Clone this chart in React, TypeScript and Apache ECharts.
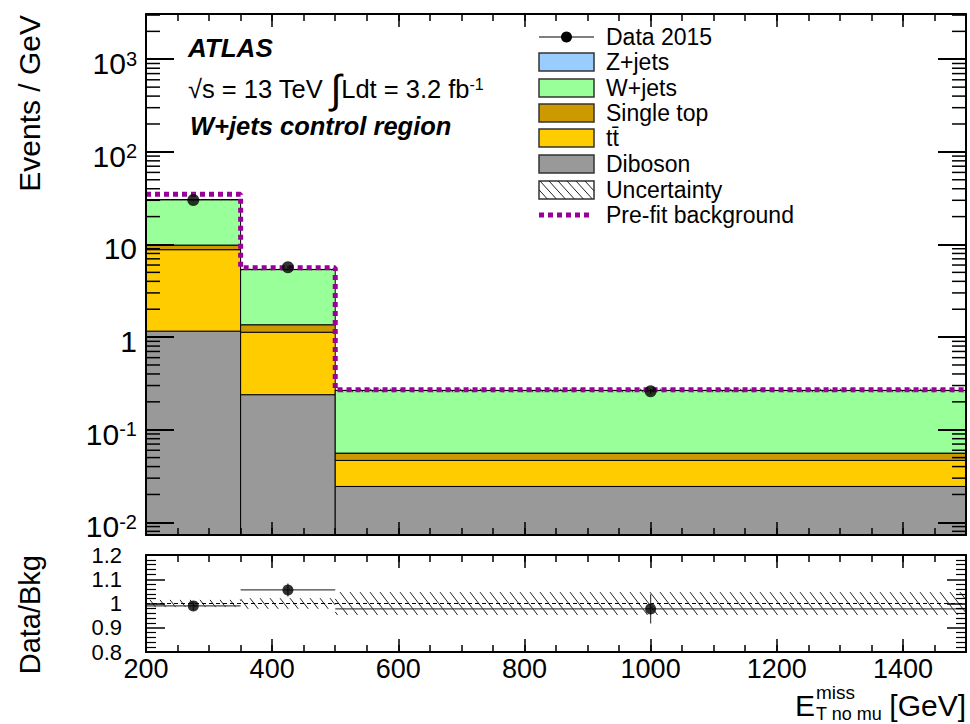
import React, { useEffect, useRef } from 'react';
import * as echarts from 'echarts';

// ---------------- data ----------------
const binEdges = [200, 350, 500, 1500];
const binCenters = [275, 425, 1000];
const dibosonValues = [1.16, 0.239, 0.0244];
const ttbarValues = [7.63, 0.89, 0.0222];
const singleTopValues = [1.06, 0.23, 0.0093];
const wjetsValues = [20.6, 4.0, 0.209];
const zjetsValues = [0.05, 0.02, 0.001];
const dataValues = [30.2, 5.68, 0.26];
const dataRelErrors = [0.018, 0.027, 0.06];
const uncertaintyRel = [0.015, 0.022, 0.047];
const prefitValues = [34.8, 5.62, 0.27];
const mainYTickExponents = [-2, -1, 0, 1, 2, 3];
const ratioTickLabels = ['0.8', '0.9', '1', '1.1', '1.2'];

const stackNames = ['Diboson', 't\u0074\u0304', 'Single top', 'W+jets', 'Z+jets'];
const stackColors = ['#999999', '#ffcc00', '#cc9900', '#99ff99', '#99ccff'];
const stackValues = [dibosonValues, ttbarValues, singleTopValues, wjetsValues, zjetsValues];

const X_MIN = 200;
const X_MAX = 1500;
const Y_MIN = 0.0073;
const Y_MAX = 3080;
const FONT = 'Liberation Sans';

// build stacked rectangles from the arrays
const stackData: number[][] = [];
const totals: number[] = binCenters.map((_, i) => {
  let cum = 0;
  stackValues.forEach((vals, c) => {
    const lo = c === 0 ? Y_MIN : cum;
    cum += vals[i];
    stackData.push([binEdges[i], binEdges[i + 1], lo, cum, c]);
  });
  return cum;
});
const mainUncData = totals.map((t, i) => [binEdges[i], binEdges[i + 1], t * (1 - uncertaintyRel[i]), t * (1 + uncertaintyRel[i])]);
const ratioUncData = totals.map((_, i) => [binEdges[i], binEdges[i + 1], 1 - uncertaintyRel[i], 1 + uncertaintyRel[i]]);
const ratioValues = dataValues.map((d, i) => d / totals[i]);
const mainErrData = dataValues.map((d, i) => [binCenters[i], binCenters[i], binCenters[i], d, d * dataRelErrors[i]]);
const ratioErrData = ratioValues.map((r, i) => [binEdges[i], binEdges[i + 1], binCenters[i], r, dataRelErrors[i]]);
const prefitLine: number[][] = [];
prefitValues.forEach((v, i) => {
  prefitLine.push([binEdges[i], v]);
  prefitLine.push([binEdges[i + 1], v]);
});
const logMinor: number[][] = [];
for (let e = -3; e <= 3; e++) {
  for (let m = 2; m <= 9; m++) {
    const v = m * Math.pow(10, e);
    if (v > Y_MIN && v < Y_MAX) logMinor.push([X_MIN, v]);
  }
}

function hatchLines(x0: number, y0: number, x1: number, y1: number, spacing: number, slope: number, color: string, lw: number) {
  const h = y1 - y0;
  const out: any[] = [];
  if (h <= 0 || x1 <= x0) return out;
  const dx = h / slope;
  const start = Math.floor((x0 - dx) / spacing) * spacing;
  for (let c = start; c <= x1; c += spacing) {
    const tmin = Math.max(0, (x0 - c) / dx);
    const tmax = Math.min(1, (x1 - c) / dx);
    if (tmax <= tmin) continue;
    out.push({
      type: 'line',
      shape: { x1: c + tmin * dx, y1: y0 + tmin * h, x2: c + tmax * dx, y2: y0 + tmax * h },
      style: { stroke: color, lineWidth: lw },
    });
  }
  return out;
}

function hatchRender(params: any, api: any) {
  const pTL = api.coord([api.value(0), api.value(3)]);
  const pBR = api.coord([api.value(1), api.value(2)]);
  return { type: 'group', children: hatchLines(pTL[0], pTL[1], pBR[0], pBR[1], 10, 1.3, '#222', 1) };
}

function errRender(withHorizontal: boolean, color: string) {
  return (params: any, api: any) => {
    const y = api.value(3);
    const e = api.value(4);
    const children: any[] = [];
    if (withHorizontal) {
      const a = api.coord([api.value(0), y]);
      const b = api.coord([api.value(1), y]);
      children.push({ type: 'line', shape: { x1: a[0], y1: a[1], x2: b[0], y2: b[1] }, style: { stroke: color, lineWidth: 1.2 } });
    }
    const c = api.coord([api.value(2), y - e]);
    const d = api.coord([api.value(2), y + e]);
    children.push({ type: 'line', shape: { x1: c[0], y1: c[1], x2: d[0], y2: d[1] }, style: { stroke: color, lineWidth: 1.2 } });
    return { type: 'group', children };
  };
}

const mkX = (grid: number, pos: string, interval: number, len: number, showLine: boolean, labels: boolean) => ({
  type: 'value',
  gridIndex: grid,
  position: pos,
  min: X_MIN,
  max: X_MAX,
  interval,
  z: 10,
  axisLine: { show: showLine, onZero: false, lineStyle: { color: '#000', width: 2 } },
  axisTick: { show: true, inside: true, length: len, lineStyle: { color: '#000', width: 1.5 } },
  axisLabel: labels
    ? {
        show: true,
        margin: 3,
        fontSize: 27,
        color: '#000',
        fontFamily: FONT,
        showMaxLabel: false,
        formatter: (v: number) => String(v),
      }
    : { show: false },
  splitLine: { show: false },
});

const logLabel = (v: number) => {
  const e = Math.log10(v);
  const r = Math.round(e);
  if (Math.abs(e - r) > 1e-6 || mainYTickExponents.indexOf(r) < 0) return '';
  if (r === 0) return '{b|1}';
  if (r === 1) return '{b|10}';
  return '{b|10}{s|' + r + '}';
};

const mkLogY = (pos: string, labels: boolean) => ({
  type: 'log',
  logBase: 10,
  gridIndex: 0,
  position: pos,
  min: Y_MIN,
  max: Y_MAX,
  z: 10,
  axisLine: { show: true, onZero: false, lineStyle: { color: '#000', width: 2 } },
  axisTick: { show: true, inside: true, length: 28, lineStyle: { color: '#000', width: 2 } },
  minorTick: { show: false },
  splitLine: { show: false },
  axisLabel: labels
    ? {
        show: true,
        margin: 9,
        formatter: logLabel,
        padding: [9, 0, 0, 0],
        rich: {
          b: { fontSize: 30, lineHeight: 30, fontFamily: FONT, color: '#000' },
          s: { fontSize: 20, lineHeight: 12, verticalAlign: 'top', fontFamily: FONT, color: '#000' },
        },
      }
    : { show: false },
});

// parity: 0 -> labels 0.8, 1, 1.2 ; 1 -> labels 0.9, 1.1 ; -1 -> no labels
const mkRatioY = (pos: string, parity: number, withLine: boolean) => ({
  type: 'value',
  gridIndex: 1,
  position: pos,
  min: 0.8,
  max: 1.2,
  interval: 0.1,
  z: 10,
  axisLine: { show: withLine, onZero: false, lineStyle: { color: '#000', width: 2 } },
  axisTick: { show: withLine, inside: true, length: 19, lineStyle: { color: '#000', width: 1.5 } },
  minorTick: { show: withLine, splitNumber: 5, length: 10, lineStyle: { color: '#000', width: 1.2 } },
  splitLine: { show: false },
  minorSplitLine: { show: false },
  axisLabel: parity >= 0
    ? {
        show: true,
        margin: 24,
        fontSize: 22,
        lineHeight: 22,
        color: '#000',
        fontFamily: FONT,
        showMinLabel: true,
        showMaxLabel: true,
        padding: [2, 0, 0, 0],
        formatter: (v: number) => {
          const idx = Math.round((v - 0.8) * 10);
          if (idx % 2 !== parity) return '';
          return ratioTickLabels[idx] ?? '';
        },
      }
    : { show: false },
});

function buildLegend() {
  const lx = 539;
  const lw = 55;
  const lh = 18;
  const tx = 606;
  const rows = [37, 62, 88, 113, 138, 164, 190, 215];
  const els: any[] = [];
  const label = (t: string, y: number) => ({
    type: 'text',
    x: tx,
    y,
    style: { text: t, fontSize: 23, fontFamily: FONT, fill: '#000', align: 'left', verticalAlign: 'middle' },
  });
  // Data
  els.push({ type: 'line', shape: { x1: lx, y1: rows[0], x2: lx + lw, y2: rows[0] }, style: { stroke: '#000', lineWidth: 1.2 } });
  els.push({ type: 'circle', shape: { cx: lx + lw / 2, cy: rows[0], r: 5.5 }, style: { fill: '#000' } });
  els.push(label('Data 2015', rows[0]));
  const boxes = [
    { name: 'Z+jets', color: stackColors[4] },
    { name: 'W+jets', color: stackColors[3] },
    { name: 'Single top', color: stackColors[2] },
    { name: stackNames[1], color: stackColors[1] },
    { name: 'Diboson', color: stackColors[0] },
  ];
  boxes.forEach((b, i) => {
    const y = rows[i + 1];
    els.push({ type: 'rect', shape: { x: lx, y: y - lh / 2, width: lw, height: lh }, style: { fill: b.color, stroke: '#333', lineWidth: 1.5 } });
    els.push(label(b.name, y));
  });
  const uy = rows[6];
  els.push({ type: 'rect', shape: { x: lx, y: uy - lh / 2, width: lw, height: lh }, style: { fill: '#fff', stroke: '#333', lineWidth: 1.5 } });
  hatchLines(lx, uy - lh / 2, lx + lw, uy + lh / 2, 9, 1.1, '#222', 1).forEach((l) => els.push(l));
  els.push(label('Uncertainty', uy));
  const py = rows[7];
  els.push({ type: 'line', shape: { x1: lx, y1: py, x2: lx + 50, y2: py }, style: { stroke: '#990099', lineWidth: 5, lineDash: [5, 4] } });
  els.push(label('Pre-fit background', py));
  return els;
}

function buildTexts() {
  return [
    {
      type: 'text', x: 188, y: 48,
      style: { text: 'ATLAS', fontSize: 26, fontWeight: 'bold', fontStyle: 'italic', fontFamily: FONT, fill: '#000', align: 'left', verticalAlign: 'middle' },
    },
    {
      type: 'text', x: 188, y: 89,
      style: {
        text: '{n|\u221As = 13 TeV }{i|\u222B}{n|Ldt = 3.2 fb}{s|-1}',
        align: 'left', verticalAlign: 'middle', fill: '#000',
        rich: {
          n: { fontSize: 25.5, lineHeight: 25, fontFamily: FONT, fill: '#000' },
          i: { fontSize: 40, lineHeight: 25, fontFamily: FONT, fill: '#000' },
          s: { fontSize: 16, lineHeight: 14, verticalAlign: 'top', fontFamily: FONT, fill: '#000' },
        },
      },
    },
    {
      type: 'text', x: 190, y: 126,
      style: { text: 'W+jets control region', fontSize: 25.5, fontWeight: 'bold', fontStyle: 'italic', fontFamily: FONT, fill: '#000', align: 'left', verticalAlign: 'middle' },
    },
    {
      type: 'text', x: 29, y: 15, rotation: Math.PI / 2,
      style: { text: 'Events / GeV', fontSize: 30, fontFamily: FONT, fill: '#000', align: 'right', verticalAlign: 'middle' },
    },
    {
      type: 'text', x: 30, y: 555, rotation: Math.PI / 2,
      style: { text: 'Data/Bkg', fontSize: 29, fontFamily: FONT, fill: '#000', align: 'right', verticalAlign: 'middle' },
    },
    {
      type: 'text', x: 795, y: 705,
      style: { text: 'E', fontSize: 30, fontFamily: FONT, fill: '#000', align: 'left', verticalAlign: 'middle' },
    },
    {
      type: 'text', x: 816, y: 692,
      style: { text: 'miss', fontSize: 19, fontFamily: FONT, fill: '#000', align: 'left', verticalAlign: 'middle' },
    },
    {
      type: 'text', x: 816, y: 714,
      style: { text: 'T no mu', fontSize: 18, fontFamily: FONT, fill: '#000', align: 'left', verticalAlign: 'middle' },
    },
    {
      type: 'text', x: 966, y: 705,
      style: { text: '[GeV]', fontSize: 30, fontFamily: FONT, fill: '#000', align: 'right', verticalAlign: 'middle' },
    },
  ];
}

export default function App() {
  const ref = useRef<HTMLDivElement>(null);
  useEffect(() => {
    if (!ref.current) return;
    const chart = echarts.init(ref.current, undefined, { renderer: 'svg' });
    const option: any = {
      animation: false,
      backgroundColor: '#fff',
      textStyle: { fontFamily: FONT },
      grid: [
        { left: 146, top: 14, width: 820, height: 521, containLabel: false },
        { left: 146, top: 555, width: 820, height: 97, containLabel: false },
      ],
      xAxis: [
        mkX(0, 'bottom', 50, 7, true, false),
        mkX(0, 'bottom', 200, 13, false, false),
        mkX(0, 'top', 50, 7, true, false),
        mkX(0, 'top', 200, 13, false, false),
        mkX(1, 'bottom', 50, 7, true, false),
        mkX(1, 'bottom', 200, 13, false, true),
        mkX(1, 'top', 50, 7, true, false),
        mkX(1, 'top', 200, 13, false, false),
      ],
      yAxis: [
        mkLogY('left', true),
        mkLogY('right', false),
        mkRatioY('left', 0, true),
        mkRatioY('right', -1, true),
        mkRatioY('left', 1, false),
      ],
      series: [
        {
          type: 'custom', name: 'stack', coordinateSystem: 'cartesian2d', xAxisIndex: 0, yAxisIndex: 0, z: 2,
          encode: { x: [0, 1], y: [2, 3] },
          data: stackData,
          renderItem: (params: any, api: any) => {
            const p0 = api.coord([api.value(0), api.value(3)]);
            const p1 = api.coord([api.value(1), api.value(2)]);
            return {
              type: 'rect',
              shape: { x: p0[0], y: p0[1], width: p1[0] - p0[0], height: p1[1] - p0[1] },
              style: { fill: stackColors[api.value(4)], stroke: '#000', lineWidth: 1 },
            };
          },
        },
        {
          type: 'custom', name: 'unc', coordinateSystem: 'cartesian2d', xAxisIndex: 0, yAxisIndex: 0, z: 3,
          encode: { x: [0, 1], y: [2, 3] },
          data: mainUncData,
          renderItem: hatchRender,
        },
        {
          type: 'line', name: 'prefit', xAxisIndex: 0, yAxisIndex: 0, z: 4,
          data: prefitLine, symbol: 'none',
          lineStyle: { color: '#990099', width: 5, type: [5, 4] },
        },
        {
          type: 'custom', name: 'dataerr', coordinateSystem: 'cartesian2d', xAxisIndex: 0, yAxisIndex: 0, z: 5,
          encode: { x: [0, 1, 2], y: [3] },
          data: mainErrData,
          renderItem: errRender(false, '#000'),
        },
        {
          type: 'scatter', name: 'Data 2015', xAxisIndex: 0, yAxisIndex: 0, z: 6,
          symbol: 'circle', symbolSize: 12, itemStyle: { color: '#000' },
          data: dataValues.map((d, i) => [binCenters[i], d]),
        },
        {
          type: 'custom', name: 'logminor', coordinateSystem: 'cartesian2d', xAxisIndex: 0, yAxisIndex: 0, z: 12, silent: true,
          encode: { x: 0, y: 1 },
          data: logMinor,
          renderItem: (params: any, api: any) => {
            const y = api.coord([X_MIN, api.value(1)])[1];
            const cs = params.coordSys;
            return {
              type: 'group',
              children: [
                { type: 'line', shape: { x1: cs.x, y1: y, x2: cs.x + 14, y2: y }, style: { stroke: '#000', lineWidth: 1.5 } },
                { type: 'line', shape: { x1: cs.x + cs.width - 14, y1: y, x2: cs.x + cs.width, y2: y }, style: { stroke: '#000', lineWidth: 1.5 } },
              ],
            };
          },
        },
        {
          type: 'custom', name: 'ratiounc', coordinateSystem: 'cartesian2d', xAxisIndex: 4, yAxisIndex: 2, z: 3,
          encode: { x: [0, 1], y: [2, 3] },
          data: ratioUncData,
          renderItem: hatchRender,
        },
        {
          type: 'line', name: 'unity', xAxisIndex: 4, yAxisIndex: 2, z: 4, symbol: 'none',
          data: [[X_MIN, 1], [X_MAX, 1]],
          lineStyle: { color: '#000', width: 1, type: [4, 3] },
        },
        {
          type: 'custom', name: 'ratioerr', coordinateSystem: 'cartesian2d', xAxisIndex: 4, yAxisIndex: 2, z: 5,
          encode: { x: [0, 1, 2], y: [3] },
          data: ratioErrData,
          renderItem: errRender(true, '#444'),
        },
        {
          type: 'scatter', name: 'ratio', xAxisIndex: 4, yAxisIndex: 2, z: 6,
          symbol: 'circle', symbolSize: 11, itemStyle: { color: '#000' },
          data: ratioValues.map((r, i) => [binCenters[i], r]),
        },
      ],
      graphic: { elements: [...buildLegend(), ...buildTexts()] },
    };
    chart.setOption(option);
    return () => chart.dispose();
  }, []);
  return (
    <div
      ref={ref}
      style={{ position: 'absolute', left: 0, top: 0, width: 970, height: 724, background: '#fff' }}
    />
  );
}
